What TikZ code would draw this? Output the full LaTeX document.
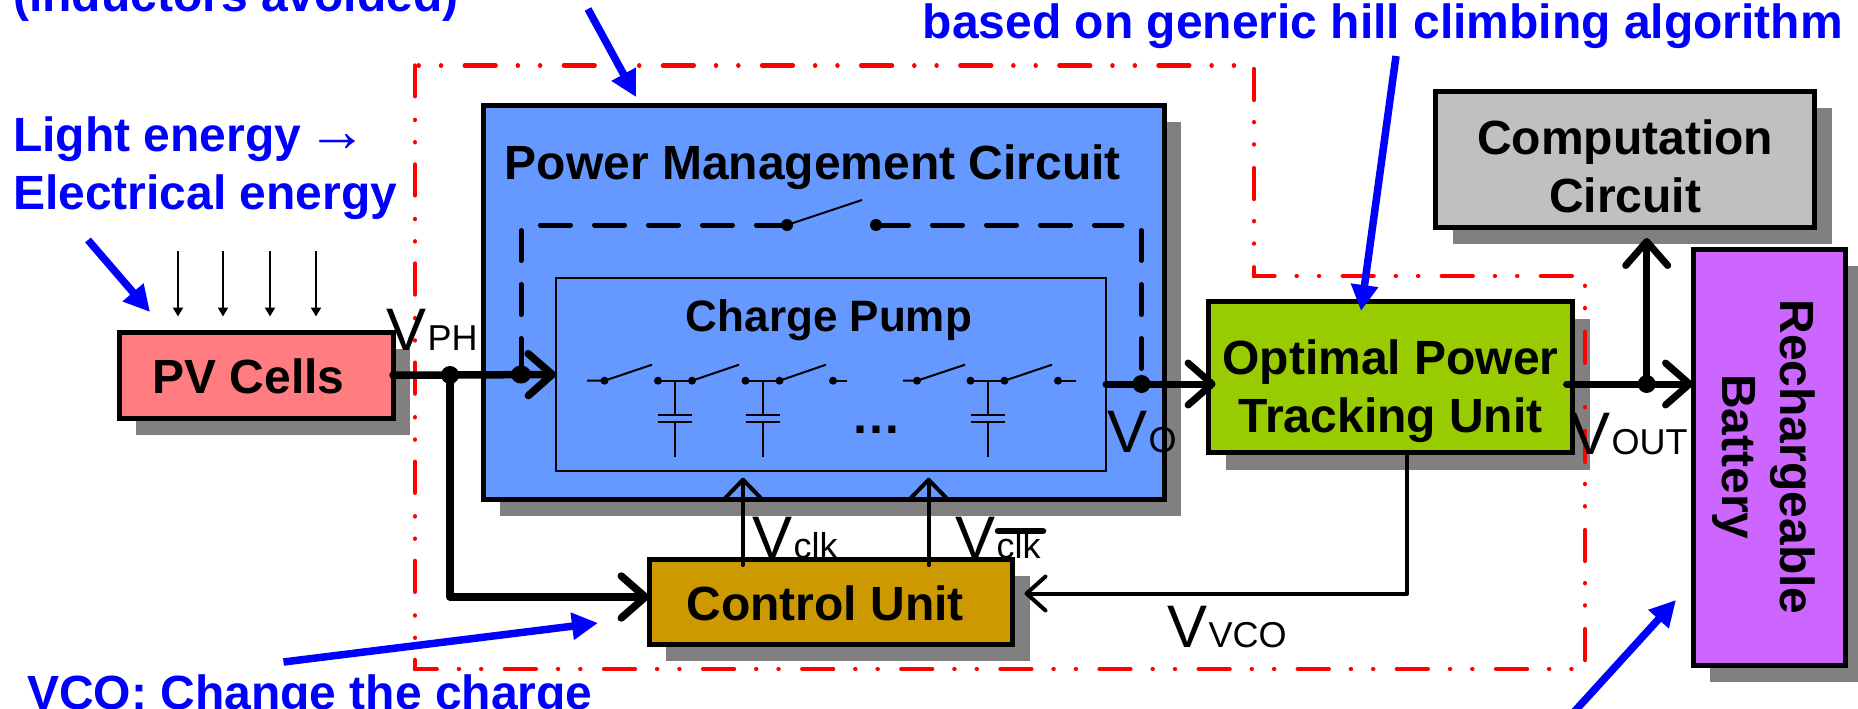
\documentclass[tikz,border=0pt]{standalone}
\usepackage{fontspec}
\setmainfont{Liberation Sans}
\usetikzlibrary{arrows.meta,shadows}
\definecolor{pvred}{HTML}{FF7C80}
\definecolor{pmcblue}{HTML}{6699FF}
\definecolor{ctrlgold}{HTML}{CC9900}
\definecolor{optgreen}{HTML}{99CC00}
\definecolor{compgray}{HTML}{C0C0C0}
\definecolor{batpurple}{HTML}{CC66FF}
\definecolor{shade}{HTML}{808080}
\newcommand{\vlab}[1]{\fontsize{60}{60}\selectfont V\hspace{1.5pt}\fontsize{36}{36}\selectfont #1}
\tikzset{
  box/.style={draw=black,line width=5pt,inner sep=0pt,outer sep=0pt,
    general shadow={fill=shade,shadow xshift=17pt,shadow yshift=-17pt},
    font=\fontsize{48}{57.5}\selectfont\bfseries,align=center},
  bluetext/.style={text=blue,font=\fontsize{48}{57.5}\selectfont\bfseries,inner sep=0pt,anchor=base west,align=left},
  blackbold/.style={font=\fontsize{48}{57.5}\selectfont\bfseries,inner sep=0pt},
  vlabel/.style={inner sep=0pt,anchor=base west},
  callout/.style={draw=blue,line width=7.5pt,-{Triangle[length=26pt,width=26pt]},fill=blue},
  light/.style={draw=black,line width=2pt,-{Triangle[length=9pt,width=10pt]}},
  wire/.style={draw=black,line width=7.5pt,line cap=round,-{Straight Barb[length=24pt,width=42pt,round]}},
  clkwire/.style={draw=black,line width=4pt,line cap=round,-{Straight Barb[length=18pt,width=35pt,round]}},
  junction/.style={fill=black},
  redline/.style={draw=red,line width=4.5pt,line cap=round,
    dash pattern=on 30.8pt off 22.25pt on 0.01pt off 22.3pt on 0.01pt off 23.74pt},
  blackdash/.style={draw=black,line width=5pt,line cap=round,dash pattern=on 30pt off 24pt},
  thin2/.style={draw=black,line width=2pt}
}
\begin{document}
\begin{tikzpicture}[x=1pt,y=-1pt]
\useasboundingbox (0,0) rectangle (1858,709);
\clip (0,0) rectangle (1858,709);
\fill[white] (0,0) rectangle (1858,709);

% blocks
\node[box,fill=pvred,minimum width=274pt,minimum height=86pt] (pv) at (256,375) {\rule{0pt}{37pt}PV Cells\hspace*{15pt}};
\node[box,fill=pmcblue,minimum width=681pt,minimum height=394pt] (pmc) at (823.5,302) {};
\node[draw=black,line width=2pt,fill=pmcblue,inner sep=0pt,outer sep=0pt,minimum width=550pt,minimum height=193pt] (pump) at (831,374.5) {};
\node[box,fill=ctrlgold,minimum width=363.5pt,minimum height=85pt] (ctrl) at (830.75,601.5) {\rule{0pt}{39pt}Control Unit\hspace*{11pt}};
\node[box,fill=optgreen,minimum width=364pt,minimum height=151pt] (opt) at (1390.6,377) {\rule{0pt}{63pt}Optimal Power\\Tracking Unit};
\node[box,fill=compgray,minimum width=379pt,minimum height=136pt] (comp) at (1625.2,159) {\rule{0pt}{49pt}Computation\\Circuit};
\node[box,fill=batpurple,minimum width=152pt,minimum height=416pt] (bat) at (1769,457) {};

% red boundary
\draw[redline,dash phase=49.35pt] (415,65.6) -- (1254,65.6);
\draw[redline,dash phase=95.65pt] (1254,65.6) -- (1254,276);
\draw[redline,dash phase=10.35pt] (1254,276) -- (1585,276);
\draw[redline,dash phase=43.25pt] (1585,276) -- (1585,669);
\draw[redline,dash phase=9.15pt] (415,669) -- (1585,669);
\draw[redline,dash phase=21.85pt] (415,669) -- (415,65.6);

% titles inside blocks
\node[blackbold,anchor=base west] (pmctitle) at (504.5,179) {Power Management Circuit};
\node[inner sep=0pt,anchor=base,font=\fontsize{44}{44}\selectfont\bfseries] (pumptitle) at (829,331) {Charge Pump};
\node[inner sep=0pt,rotate=-90,align=center,font=\fontsize{48}{57.5}\selectfont\bfseries] (battitle) at (1764,457) {Rechargeable\\Battery};
\node[inner sep=0pt,anchor=base,font=\fontsize{50}{50}\selectfont\bfseries] (dots) at (876.5,433) {…};

% charge pump schematic
\foreach \xa/\xb/\xc/\xd/\xe/\xf in {587/604.5/652/658/692/0,692/692/739/745.5/779.5/0,779.5/779.5/826/833/847/0,903/917/965/970.5/1004.5/0,1004.5/1004.5/1052/1058/1075.5/0}{
  \draw[thin2] (\xa,380.7) -- (\xb,380.7) -- (\xc,364.7);
  \draw[thin2] (\xd,380.7) -- (\xe,380.7);
  \fill[junction] (\xb,380.7) circle (4pt) (\xd,380.7) circle (4pt);
}
\foreach \cx in {675,762.5,987.5}{
  \draw[thin2] (\cx,380.7) -- (\cx,415) (\cx-17,415) -- (\cx+17,415) (\cx-17,422) -- (\cx+17,422) (\cx,422) -- (\cx,457);
}

% bypass with switch
\coordinate (jin) at (521,374.5);
\coordinate (jout) at (1141.5,384);
\coordinate (swa) at (787,225);
\coordinate (swb) at (876,225);
\draw[blackdash] (540.5,225) -- (swa);
\draw[blackdash] (878.5,225) -- (1122,225);
\draw[blackdash] (521,230.5) -- (jin);
\draw[blackdash] (1141.5,230.5) -- (jout);
\draw[line width=2pt] (swa) -- (862,200);
\fill[junction] (swa) circle (6pt) (swb) circle (6pt);

% light arrows
\foreach \lx in {178,223,270,316}{
  \draw[light] (\lx,251) -- (\lx,316.5);
}

% wires
\coordinate (jph) at (450,375);
\draw[wire] (pv.east) -- (jph) -- (pump.west);
\draw[wire,line join=round] (jph) |- (ctrl.west |- 0,597);
\fill[junction] (jph) circle (9pt) (jin) ellipse (10pt and 9pt);
\draw[wire,line width=7pt,shorten >=-7pt] (pump.east |- jout) -- (jout) -- (opt.west |- jout);
\fill[junction] (jout) circle (9pt);
\coordinate (jvout) at (1646.7,384);
\draw[wire,line width=7pt,shorten <=-6pt] (opt.east |- jvout) -- (jvout) -- (bat.west |- jvout);
\draw[wire,line width=7pt,shorten >=11pt] (jvout) -- (comp.south -| jvout);
\fill[junction] (jvout) circle (9pt);
\coordinate (fbc) at (1407,593.5);
\draw[clkwire,line join=round,shorten >=12pt,-{Straight Barb[length=19pt,width=34pt,round]}] (opt.south -| fbc) -- (fbc) -- (ctrl.east |- fbc);
\draw[clkwire] (ctrl.north -| 743,0) ++(0,6) -- (743,477.7);
\draw[clkwire] (ctrl.north -| 928.6,0) ++(0,6) -- (928.6,477.7);

% voltage labels
\node[vlabel] (vph) at (386,350.4) {\vlab{PH}};
\node[vlabel] (vo) at (1107,452.7) {\vlab{O}};
\node[vlabel] (vclk) at (752,558) {\vlab{clk}};
\node[vlabel] (vclkb) at (955,558) {\vlab{clk}};
\coordinate (bara) at (998,531);
\coordinate (barb) at (1043,531);
\draw[line width=6.5pt,line cap=round] (bara) -- (barb);
\node[vlabel] (vout) at (1570,454) {\vlab{OUT}};
\node[vlabel] (vvco) at (1167,647) {\vlab{VCO}};

% blue annotations
\node[bluetext] (t1) at (13,12) {(inductors avoided)};
\node[bluetext] (t2) at (13,209) {Light energy\hspace{-7pt} {\mdseries\fontsize{60}{57.5}\selectfont →}\\Electrical energy};
\node[bluetext] (t3) at (27,709) {VCO: Change the charge};
\node[bluetext,anchor=base east] (t4) at (1843,39) {based on generic hill climbing algorithm};
\coordinate (c1a) at (588,9);
\coordinate (c1b) at (636,97);
\coordinate (c2a) at (88,240);
\coordinate (c2b) at (150,312);
\coordinate (c3a) at (283.5,662);
\coordinate (c3b) at (598,623);
\coordinate (c4a) at (1396,56);
\coordinate (c4b) at (1361,311);
\coordinate (c5a) at (1574,712);
\coordinate (c5b) at (1676,600);
\draw[callout] (c1a) -- (c1b);
\draw[callout] (c2a) -- (c2b);
\draw[callout] (c3a) -- (c3b);
\draw[callout] (c4a) -- (c4b);
\draw[callout] (c5a) -- (c5b);
\end{tikzpicture}
\end{document}
